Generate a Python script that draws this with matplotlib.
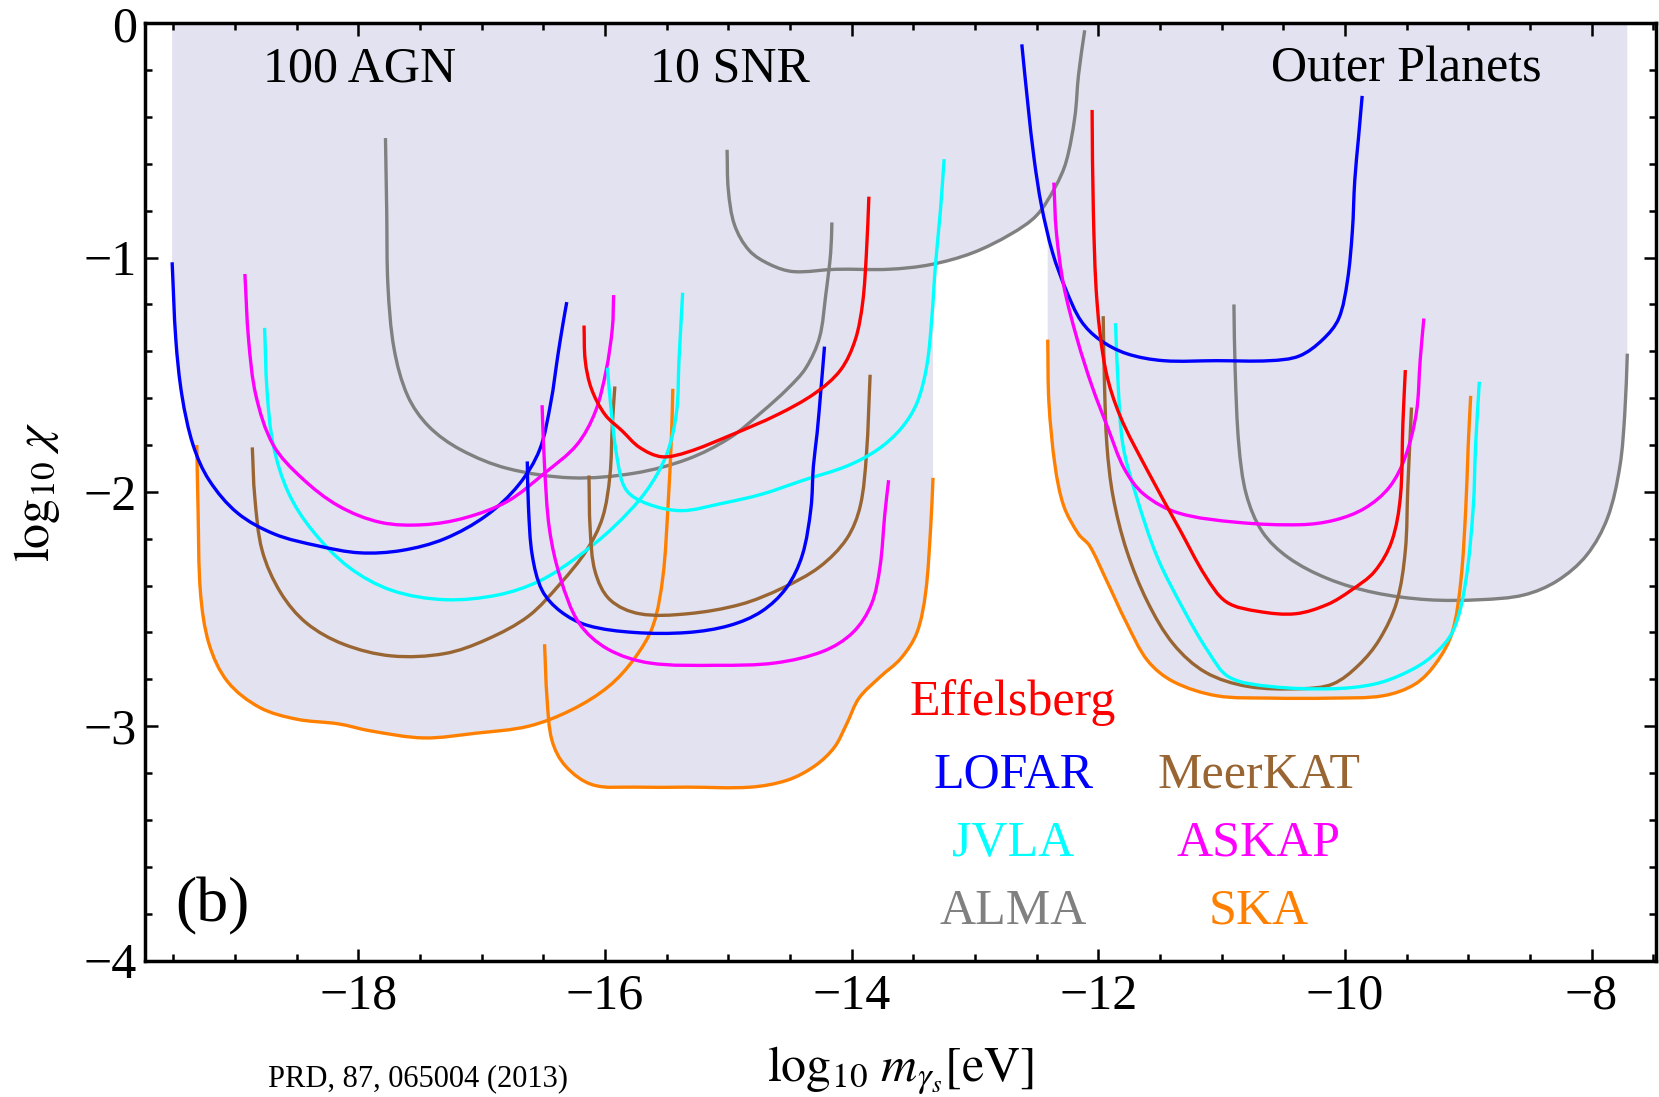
import matplotlib
matplotlib.use('Agg')
import numpy as np
import matplotlib.pyplot as plt
from matplotlib.path import Path
from matplotlib.patches import PathPatch
from matplotlib.ticker import MultipleLocator, FuncFormatter

plt.rcParams['font.family'] = ['Liberation Serif', 'DejaVu Serif']
plt.rcParams['mathtext.fontset'] = 'stix'

# ---------------- data (log10 m [eV], log10 chi) ----------------
# 100 AGN group
LOFAR_AGN_X = [-19.51, -19.48, -19.43, -19.34, -19.21, -18.98, -18.68, -18.33, -17.99, -17.65, -17.30, -16.96, -16.70, -16.53, -16.44, -16.38, -16.34, -16.31]
LOFAR_AGN_Y = [-1.02, -1.35, -1.59, -1.80, -1.95, -2.09, -2.18, -2.23, -2.26, -2.25, -2.20, -2.10, -1.97, -1.82, -1.62, -1.41, -1.28, -1.19]
ASKAP_AGN_X = [-18.92, -18.89, -18.83, -18.69, -18.46, -18.16, -17.82, -17.47, -17.13, -16.79, -16.49, -16.23, -16.08, -15.99, -15.94, -15.93]
ASKAP_AGN_Y = [-1.07, -1.35, -1.59, -1.80, -1.94, -2.06, -2.13, -2.14, -2.11, -2.04, -1.92, -1.80, -1.66, -1.48, -1.30, -1.16]
JVLA_AGN_X = [-18.76, -18.74, -18.69, -18.57, -18.38, -18.08, -17.73, -17.30, -16.87, -16.53, -16.23, -15.93, -15.67, -15.50, -15.42, -15.40, -15.37]
JVLA_AGN_Y = [-1.30, -1.57, -1.80, -2.00, -2.16, -2.32, -2.42, -2.46, -2.44, -2.38, -2.28, -2.15, -2.00, -1.84, -1.66, -1.44, -1.15]
MEERKAT_AGN_X = [-18.86, -18.84, -18.78, -18.63, -18.42, -18.12, -17.73, -17.30, -16.96, -16.62, -16.36, -16.15, -16.02, -15.96, -15.94, -15.92]
MEERKAT_AGN_Y = [-1.81, -2.02, -2.25, -2.43, -2.56, -2.65, -2.70, -2.69, -2.63, -2.53, -2.39, -2.25, -2.11, -1.93, -1.71, -1.55]
SKA_AGN_X = [-19.31, -19.30, -19.28, -19.21, -19.06, -18.80, -18.50, -18.16, -17.90, -17.47, -17.05, -16.62, -16.27, -15.97, -15.76, -15.61, -15.53, -15.49, -15.46, -15.45]
SKA_AGN_Y = [-1.80, -2.07, -2.43, -2.65, -2.81, -2.92, -2.97, -2.99, -3.02, -3.05, -3.03, -3.00, -2.93, -2.83, -2.71, -2.57, -2.36, -2.07, -1.75, -1.56]
ALMA_AGN_X = [-17.78, -17.77, -17.76, -17.71, -17.60, -17.43, -17.17, -16.79, -16.27, -15.76, -15.33, -14.99, -14.73, -14.52, -14.37, -14.26, -14.21, -14.17, -14.16]
ALMA_AGN_Y = [-0.49, -0.80, -1.12, -1.39, -1.59, -1.72, -1.82, -1.90, -1.94, -1.92, -1.86, -1.77, -1.66, -1.56, -1.47, -1.34, -1.16, -0.98, -0.85]

# 10 SNR group
EFFELSBERG_SNR_X = [-16.17, -16.16, -16.11, -16.00, -15.86, -15.72, -15.54, -15.33, -14.99, -14.60, -14.30, -14.09, -13.97, -13.91, -13.88, -13.86]
EFFELSBERG_SNR_Y = [-1.29, -1.44, -1.56, -1.67, -1.74, -1.81, -1.85, -1.83, -1.76, -1.67, -1.58, -1.48, -1.35, -1.19, -0.98, -0.74]
LOFAR_SNR_X = [-16.63, -16.62, -16.59, -16.51, -16.36, -16.14, -15.76, -15.33, -14.99, -14.73, -14.53, -14.40, -14.33, -14.31, -14.28, -14.25, -14.22]
LOFAR_SNR_Y = [-1.87, -2.07, -2.27, -2.42, -2.51, -2.57, -2.60, -2.60, -2.57, -2.51, -2.41, -2.27, -2.07, -1.89, -1.75, -1.57, -1.38]
ASKAP_SNR_X = [-16.51, -16.49, -16.45, -16.36, -16.21, -15.98, -15.64, -15.09, -14.62, -14.23, -13.99, -13.84, -13.77, -13.73, -13.70]
ASKAP_SNR_Y = [-1.63, -1.89, -2.16, -2.37, -2.56, -2.67, -2.73, -2.74, -2.73, -2.68, -2.60, -2.48, -2.32, -2.09, -1.95]
MEERKAT_SNR_X = [-16.13, -16.12, -16.08, -15.96, -15.72, -15.33, -14.90, -14.56, -14.26, -14.04, -13.93, -13.88, -13.85]
MEERKAT_SNR_Y = [-1.93, -2.16, -2.34, -2.46, -2.52, -2.52, -2.48, -2.41, -2.32, -2.20, -2.06, -1.84, -1.50]
JVLA_SNR_X = [-15.98, -15.95, -15.90, -15.83, -15.66, -15.38, -15.06, -14.73, -14.39, -14.04, -13.79, -13.60, -13.47, -13.39, -13.35, -13.32, -13.28, -13.25]
JVLA_SNR_Y = [-1.47, -1.65, -1.86, -1.99, -2.05, -2.08, -2.05, -2.01, -1.95, -1.89, -1.82, -1.73, -1.62, -1.46, -1.26, -1.03, -0.80, -0.58]
SKA_SNR_X = [-16.49, -16.47, -16.43, -16.32, -16.10, -15.76, -15.33, -14.82, -14.52, -14.30, -14.14, -14.04, -13.94, -13.77, -13.60, -13.47, -13.40, -13.36, -13.34]
SKA_SNR_Y = [-2.65, -2.88, -3.06, -3.17, -3.25, -3.26, -3.26, -3.26, -3.23, -3.17, -3.09, -2.99, -2.88, -2.79, -2.71, -2.60, -2.43, -2.16, -1.94]
ALMA_SNR_X = [-15.01, -15.00, -14.95, -14.83, -14.66, -14.47, -14.13, -13.70, -13.36, -13.02, -12.71, -12.50, -12.35, -12.26, -12.19, -12.16, -12.11]
ALMA_SNR_Y = [-0.54, -0.71, -0.86, -0.97, -1.03, -1.06, -1.05, -1.05, -1.03, -0.98, -0.90, -0.82, -0.70, -0.59, -0.40, -0.22, -0.03]

# Outer Planets group
LOFAR_OP_X = [-12.62, -12.57, -12.52, -12.46, -12.37, -12.26, -12.14, -11.99, -11.77, -11.47, -11.04, -10.61, -10.37, -10.18, -10.05, -9.98, -9.94, -9.92, -9.89, -9.86]
LOFAR_OP_Y = [-0.09, -0.35, -0.58, -0.78, -0.98, -1.14, -1.27, -1.35, -1.41, -1.44, -1.44, -1.44, -1.42, -1.35, -1.26, -1.10, -0.89, -0.67, -0.49, -0.31]
ALMA_OP_X = [-10.90, -10.89, -10.86, -10.80, -10.67, -10.46, -10.14, -9.76, -9.33, -8.90, -8.55, -8.28, -8.04, -7.87, -7.77, -7.73, -7.71]
ALMA_OP_Y = [-1.20, -1.48, -1.80, -2.01, -2.17, -2.28, -2.37, -2.43, -2.46, -2.46, -2.44, -2.38, -2.27, -2.11, -1.89, -1.66, -1.41]
ASKAP_OP_X = [-12.36, -12.34, -12.28, -12.17, -12.05, -11.92, -11.79, -11.63, -11.35, -10.87, -10.36, -10.08, -9.84, -9.64, -9.51, -9.42, -9.39, -9.36]
ASKAP_OP_Y = [-0.68, -0.89, -1.12, -1.35, -1.55, -1.73, -1.90, -2.01, -2.09, -2.13, -2.14, -2.12, -2.07, -1.98, -1.85, -1.66, -1.44, -1.26]
EFFELSBERG_OP_X = [-12.05, -12.04, -12.01, -11.94, -11.82, -11.60, -11.34, -11.13, -10.96, -10.70, -10.40, -10.14, -9.95, -9.76, -9.62, -9.55, -9.53, -9.51]
EFFELSBERG_OP_Y = [-0.37, -0.80, -1.19, -1.48, -1.68, -1.91, -2.16, -2.36, -2.47, -2.51, -2.52, -2.48, -2.42, -2.34, -2.21, -2.02, -1.71, -1.48]
JVLA_OP_X = [-11.86, -11.84, -11.80, -11.69, -11.52, -11.30, -11.11, -10.94, -10.61, -10.10, -9.76, -9.50, -9.29, -9.12, -9.02, -8.96, -8.94, -8.91]
JVLA_OP_Y = [-1.28, -1.53, -1.80, -2.02, -2.28, -2.51, -2.68, -2.79, -2.83, -2.84, -2.82, -2.77, -2.70, -2.59, -2.38, -2.07, -1.80, -1.53]
MEERKAT_OP_X = [-11.96, -11.95, -11.93, -11.88, -11.77, -11.60, -11.39, -11.13, -10.79, -10.36, -10.10, -9.89, -9.72, -9.58, -9.51, -9.49, -9.46]
MEERKAT_OP_Y = [-1.25, -1.53, -1.80, -2.02, -2.25, -2.47, -2.65, -2.77, -2.83, -2.84, -2.82, -2.74, -2.63, -2.47, -2.25, -1.98, -1.64]
SKA_OP_X = [-12.41, -12.40, -12.35, -12.28, -12.16, -12.07, -11.94, -11.77, -11.60, -11.39, -11.04, -10.61, -10.10, -9.69, -9.43, -9.26, -9.13, -9.06, -9.02, -9.00, -8.98]
SKA_OP_Y = [-1.35, -1.62, -1.89, -2.06, -2.18, -2.23, -2.37, -2.56, -2.72, -2.81, -2.87, -2.88, -2.88, -2.87, -2.82, -2.73, -2.60, -2.38, -2.07, -1.80, -1.59]

# Labels
TELESCOPES = ['Effelsberg', 'LOFAR', 'JVLA', 'ALMA', 'MeerKAT', 'ASKAP', 'SKA']
COLORS = {'Effelsberg': '#FF0000', 'LOFAR': '#0000FF', 'JVLA': '#00FFFF', 'ALMA': '#808080',
          'MeerKAT': '#996633', 'ASKAP': '#FF00FF', 'SKA': '#FF8000'}
GROUP_LABELS = ['100 AGN', '10 SNR', 'Outer Planets']
X_TICKS = [-18, -16, -14, -12, -10, -8]
Y_TICKS = [0, -1, -2, -3, -4]

curves = [
    (ALMA_AGN_X, ALMA_AGN_Y, 'ALMA'),
    (SKA_AGN_X, SKA_AGN_Y, 'SKA'),
    (MEERKAT_AGN_X, MEERKAT_AGN_Y, 'MeerKAT'),
    (JVLA_AGN_X, JVLA_AGN_Y, 'JVLA'),
    (LOFAR_AGN_X, LOFAR_AGN_Y, 'LOFAR'),
    (ASKAP_AGN_X, ASKAP_AGN_Y, 'ASKAP'),
    (ALMA_SNR_X, ALMA_SNR_Y, 'ALMA'),
    (SKA_SNR_X, SKA_SNR_Y, 'SKA'),
    (MEERKAT_SNR_X, MEERKAT_SNR_Y, 'MeerKAT'),
    (JVLA_SNR_X, JVLA_SNR_Y, 'JVLA'),
    (LOFAR_SNR_X, LOFAR_SNR_Y, 'LOFAR'),
    (ASKAP_SNR_X, ASKAP_SNR_Y, 'ASKAP'),
    (EFFELSBERG_SNR_X, EFFELSBERG_SNR_Y, 'Effelsberg'),
    (ALMA_OP_X, ALMA_OP_Y, 'ALMA'),
    (SKA_OP_X, SKA_OP_Y, 'SKA'),
    (MEERKAT_OP_X, MEERKAT_OP_Y, 'MeerKAT'),
    (JVLA_OP_X, JVLA_OP_Y, 'JVLA'),
    (LOFAR_OP_X, LOFAR_OP_Y, 'LOFAR'),
    (ASKAP_OP_X, ASKAP_OP_Y, 'ASKAP'),
    (EFFELSBERG_OP_X, EFFELSBERG_OP_Y, 'Effelsberg'),
]

FILL = '#E3E2F0'
SX, SY = 123.0, 233.0  # approx. pixels per data unit, for isotropic tangents


def smooth_path(xs, ys, close_to_top=False):
    p = np.column_stack([np.asarray(xs) * SX, np.asarray(ys) * SY])
    n = len(p)
    tang = np.zeros_like(p)
    for i in range(n):
        a = p[max(i - 1, 0)]
        b = p[min(i + 1, n - 1)]
        d = b - a
        tang[i] = d / (np.hypot(*d) + 1e-12)
    verts = [p[0]]
    codes = [Path.MOVETO]
    for i in range(n - 1):
        L = np.hypot(*(p[i + 1] - p[i])) / 3.0
        verts += [p[i] + tang[i] * L, p[i + 1] - tang[i + 1] * L, p[i + 1]]
        codes += [Path.CURVE4] * 3
    verts = np.array(verts)
    verts[:, 0] /= SX
    verts[:, 1] /= SY
    verts = list(verts)
    if close_to_top:
        verts += [(xs[-1], 0.0), (xs[0], 0.0), (xs[0], ys[0])]
        codes += [Path.LINETO, Path.LINETO, Path.CLOSEPOLY]
    return Path(np.array(verts), codes)


fig = plt.figure(figsize=(16.59, 10.97), dpi=100)
ax = fig.add_axes([0.0874, 0.1244, 0.9106, 0.8544])
ax.set_xlim(-19.73, -7.48)
ax.set_ylim(-4, 0)

for xs, ys, name in curves:
    ax.add_patch(PathPatch(smooth_path(xs, ys, close_to_top=True), facecolor=FILL,
                           edgecolor='none', lw=0, zorder=0))
for xs, ys, name in curves:
    ax.add_patch(PathPatch(smooth_path(xs, ys), facecolor='none', edgecolor=COLORS[name],
                           lw=2.4, capstyle='butt', joinstyle='round', zorder=2))

# group labels
for lab, gx in zip(GROUP_LABELS, [-17.99, -14.99, -9.50]):
    ax.text(gx, -0.195, lab, ha='center', va='center', fontsize=36, color='black', zorder=3)

# telescope labels
label_pos = {'Effelsberg': (-12.69, -2.90), 'LOFAR': (-12.69, -3.21), 'JVLA': (-12.69, -3.50),
             'ALMA': (-12.69, -3.79), 'MeerKAT': (-10.70, -3.21), 'ASKAP': (-10.70, -3.50),
             'SKA': (-10.70, -3.79)}
for name in TELESCOPES:
    px, py = label_pos[name]
    ax.text(px, py, name, ha='center', va='center', fontsize=36, color=COLORS[name], zorder=3)

ax.text(-19.18, -3.77, '(b)', ha='center', va='center', fontsize=46, color='black')

# ticks
ax.set_xticks(X_TICKS)
ax.set_yticks(Y_TICKS)
ax.xaxis.set_minor_locator(MultipleLocator(0.5))
ax.yaxis.set_minor_locator(MultipleLocator(0.2))
fmt = FuncFormatter(lambda v, p: f'{int(round(v))}'.replace('-', '\u2212'))
ax.xaxis.set_major_formatter(fmt)
ax.yaxis.set_major_formatter(fmt)
ax.tick_params(which='both', direction='in', top=True, right=True, width=1.8, labelsize=36)
ax.tick_params(which='major', length=9)
ax.tick_params(which='minor', length=5)
ax.tick_params(axis='x', pad=9)
ax.tick_params(axis='y', pad=6)
for s in ax.spines.values():
    s.set_linewidth(2.5)

fig.text(0.543, 0.024, r'$\log_{10}\, m_{\gamma_s}[\mathrm{eV}]$', ha='center', va='center', fontsize=36)
fig.text(0.0223, 0.5515, r'$\log_{10}\,\chi$', rotation=90, ha='center', va='center', fontsize=36)
fig.text(0.1615, 0.0164, 'PRD, 87, 065004 (2013)', ha='left', va='center', fontsize=22)

fig.savefig('out.png', dpi=100)
